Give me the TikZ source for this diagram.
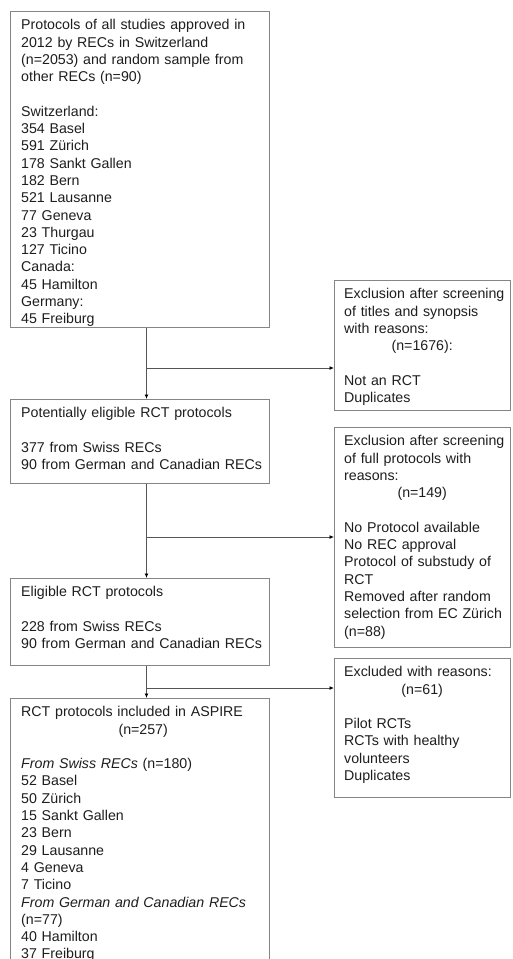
\documentclass[tikz,border=0pt]{standalone}
\usepackage{fontspec}
\setmainfont{Liberation Sans}
\usetikzlibrary{arrows.meta}
\definecolor{boxgray}{HTML}{858585}
\definecolor{linegray}{HTML}{555555}
\definecolor{txt}{HTML}{1E1E1E}
\begin{document}
\begin{tikzpicture}[x=1pt,y=-1pt,
  boxnode/.style={draw=boxgray, line width=1pt, rectangle, inner sep=0pt, anchor=north west},
  boxtext/.style={anchor=north west, inner sep=0pt, text width=#1, align=left,
    font=\fontsize{14.2}{17.3}\selectfont, text=txt},
  conn/.style={draw=linegray, line width=1pt},
  arr/.style={conn, -{Latex[length=4.5pt,width=4pt,black]}}
]
\useasboundingbox (0,0) rectangle (512,959);
\fill[white] (0,0) rectangle (512,959);

% left column boxes
\node[boxnode, minimum width=259pt, minimum height=316pt] (b1) at (10,11) {};
\node[boxnode, minimum width=259pt, minimum height=84pt]  (b2) at (10,399) {};
\node[boxnode, minimum width=259pt, minimum height=87pt]  (b3) at (10,578) {};
\node[boxnode, minimum width=259pt, minimum height=300pt] (b4) at (10,698) {};
% right column boxes
\node[boxnode, minimum width=176pt, minimum height=130pt] (r1) at (334,280) {};
\node[boxnode, minimum width=176pt, minimum height=220pt] (r2) at (334,427) {};
\node[boxnode, minimum width=176pt, minimum height=139pt] (r3) at (334,658) {};

% texts
\node[boxtext=250pt] (t1) at (21,17.4) {\strut Protocols of all studies approved in\\
2012 by RECs in Switzerland\\
(n=2053) and random sample from\\
other RECs (n=90)\\
~\\
Switzerland:\\
354 Basel\\
591 Zürich\\
178 Sankt Gallen\\
182 Bern\\
521 Lausanne\\
77 Geneva\\
23 Thurgau\\
127 Ticino\\
Canada:\\
45 Hamilton\\
Germany:\\
45 Freiburg};

\node[boxtext=250pt] (t2) at (21,405.4) {\strut Potentially eligible RCT protocols\\
~\\
377 from Swiss RECs\\
90 from German and Canadian RECs};

\node[boxtext=250pt] (t3) at (21,584.4) {\strut Eligible RCT protocols\\
~\\
228 from Swiss RECs\\
90 from German and Canadian RECs};

\node[boxtext=250pt] (t4) at (21,704.4) {\strut RCT protocols included in ASPIRE\\
\makebox[244pt][c]{(n=257)}\\
~\\
\textit{From Swiss RECs} (n=180)\\
52 Basel\\
50 Zürich\\
15 Sankt Gallen\\
23 Bern\\
29 Lausanne\\
4 Geneva\\
7 Ticino\\
\textit{From German and Canadian RECs}\\
(n=77)\\
40 Hamilton\\
37 Freiburg};

\node[boxtext=172pt] (s1) at (344,286.4) {\strut Exclusion after screening\\
of titles and synopsis\\
with reasons:\\
\makebox[156pt][c]{(n=1676):}\\
~\\
Not an RCT\\
Duplicates};

\node[boxtext=172pt] (s2) at (344,433.4) {\strut Exclusion after screening\\
of full protocols with\\
reasons:\\
\makebox[156pt][c]{(n=149)}\\
~\\
No Protocol available\\
No REC approval\\
Protocol of substudy of\\
RCT\\
Removed after random\\
selection from EC Zürich\\
(n=88)};

\node[boxtext=172pt] (s3) at (344,664.4) {\strut Excluded with reasons:\\
\makebox[156pt][c]{(n=61)}\\
~\\
Pilot RCTs\\
RCTs with healthy\\
volunteers\\
Duplicates};

% connectors
\coordinate (tx) at (146.5,0);
\coordinate (j1) at (146.5,368);
\coordinate (j2) at (146.5,537);
\coordinate (j3) at (146.5,688);
\draw[arr] (b1.south -| tx) -- (b2.north -| tx);
\draw[arr] (j1) -- (j1 -| r1.west);
\draw[arr] (b2.south -| tx) -- (b3.north -| tx);
\draw[arr] (j2) -- (j2 -| r2.west);
\draw[arr] (b3.south -| tx) -- (b4.north -| tx);
\draw[arr] (j3) -- (j3 -| r3.west);
\end{tikzpicture}
\end{document}
